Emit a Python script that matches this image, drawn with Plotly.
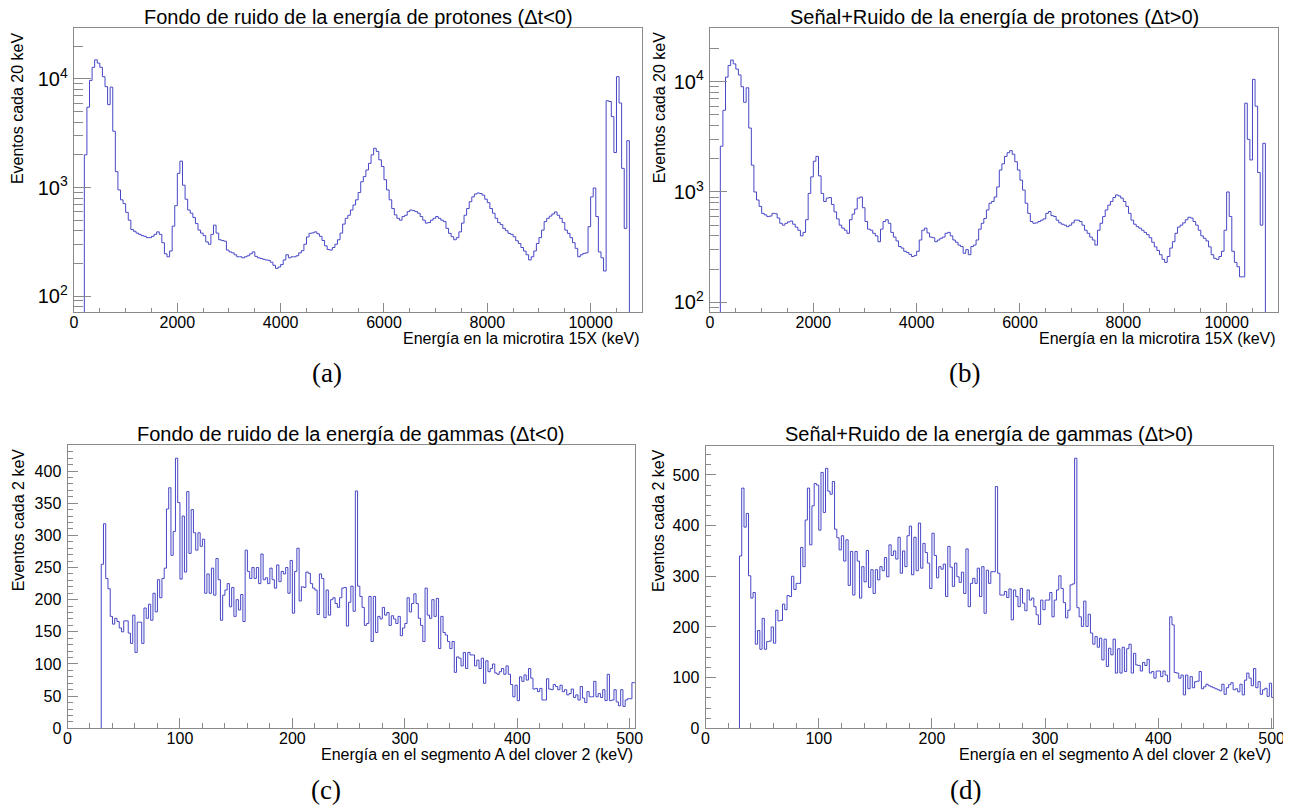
import numpy as np
import plotly.graph_objects as go

# ---------------- data ----------------
# Proton energy spectra, sampled every 50 keV starting at 200 keV (counts per 20 keV)
proton_start_keV = 200
proton_step_keV = 50
proton_bg = [
    2000, 5500, 9700, 12800, 15000, 14000, 12800, 10500, 8500, 5800, 8400, 3300, 1400, 950, 770, 710,
    590, 500, 410, 395, 380, 370, 360, 355, 345, 345, 355, 370, 390, 370, 310, 245, 230, 260, 440, 680,
    1350, 1750, 1050, 780, 620, 580, 530, 465, 405, 380, 360, 315, 300, 370, 450, 380, 330, 325, 320, 265,
    255, 250, 240, 230, 230, 225, 230, 235, 245, 255, 232, 225, 222, 218, 215, 213, 205, 192, 180, 185,
    195, 215, 240, 225, 230, 230, 235, 250, 262, 300, 350, 378, 382, 390, 375, 355, 325, 290, 268, 265,
    280, 300, 330, 380, 460, 520, 555, 620, 690, 770, 900, 1130, 1260, 1450, 1670, 2000, 2300, 2150, 1800, 1560,
    1180, 950, 770, 640, 560, 520, 500, 540, 555, 600, 620, 612, 600, 580, 540, 500, 470, 475, 500, 520,
    540, 520, 500, 485, 420, 378, 352, 330, 345, 390, 470, 555, 640, 740, 820, 870, 890, 880, 850, 780,
    725, 640, 580, 520, 475, 455, 420, 400, 378, 370, 352, 323, 305, 280, 260, 240, 215, 230, 260, 305,
    345, 405, 485, 520, 545, 570, 595, 555, 520, 475, 405, 378, 345, 310, 275, 230, 240, 247, 250, 435,
    820, 990, 540, 255, 225, 170, 6300, 6200, 4500, 2100, 10500, 6000, 1500, 420, 2700,
]
proton_sig = [
    2600, 5500, 11000, 14000, 15700, 14500, 13000, 11500, 9000, 6500, 8800, 3800, 1750, 1000, 846, 740,
    640, 620, 598, 605, 640, 635, 580, 520, 500, 520, 535, 545, 510, 480, 450, 400, 430, 560, 970, 1370,
    1900, 2100, 1400, 970, 820, 880, 890, 770, 660, 570, 500, 470, 450, 422, 560, 630, 700, 880, 900, 720,
    540, 460, 450, 422, 400, 354, 460, 540, 560, 520, 430, 390, 360, 320, 310, 290, 283, 272, 260, 265,
    290, 367, 450, 470, 425, 390, 385, 354, 367, 380, 390, 422, 430, 400, 367, 350, 330, 320, 278, 300,
    270, 320, 330, 367, 460, 520, 575, 687, 790, 820, 900, 1110, 1580, 1800, 2100, 2270, 2370, 2200, 1880, 1580,
    1280, 1040, 790, 640, 540, 520, 525, 540, 555, 570, 640, 665, 610, 600, 555, 525, 510, 500, 485, 500,
    525, 555, 555, 540, 500, 450, 422, 390, 367, 330, 450, 520, 598, 687, 760, 820, 890, 940, 920, 880,
    820, 740, 640, 555, 510, 485, 470, 450, 430, 410, 385, 350, 318, 295, 270, 245, 230, 260, 310, 354,
    422, 480, 500, 525, 560, 590, 580, 540, 500, 450, 400, 380, 360, 318, 270, 250, 245, 260, 290, 450,
    1000, 600, 290, 230, 210, 170, 170, 6380, 3000, 1950, 10500, 6000, 1500, 500, 2760,
]

# Gamma energy spectra, 2 keV bins starting at 30 keV
gamma_start_keV = 30
gamma_step_keV = 2
gamma_bg = [
    255, 318, 233, 217, 174, 162, 171, 166, 156, 150,
    167, 167, 148, 132, 176, 118, 165, 165, 132, 187,
    171, 193, 168, 210, 181, 231, 203, 233, 249, 341,
    374, 269, 306, 420, 351, 232, 330, 243, 368, 272,
    340, 304, 277, 304, 283, 294, 210, 240, 210, 249,
    207, 264, 231, 168, 207, 215, 225, 189, 219, 174,
    200, 184, 208, 166, 277, 244, 233, 250, 233, 250,
    225, 271, 231, 234, 225, 249, 231, 218, 254, 228,
    244, 240, 250, 210, 261, 179, 244, 280, 198, 220,
    219, 243, 241, 225, 218, 215, 177, 240, 233, 172,
    215, 176, 200, 203, 194, 188, 203, 218, 219, 159,
    196, 221, 182, 369, 221, 205, 188, 160, 163, 205,
    135, 205, 149, 174, 170, 188, 176, 180, 160, 175,
    170, 163, 174, 144, 156, 163, 203, 181, 194, 209,
    194, 171, 160, 135, 218, 176, 171, 200, 174, 202,
    124, 174, 149, 145, 135, 124, 135, 87, 111, 109,
    97, 118, 93, 118, 114, 114, 97, 106, 93, 109,
    70, 105, 88, 93, 100, 86, 84, 88, 93, 84,
    97, 84, 68, 49, 67, 43, 80, 73, 83, 75,
    93, 78, 61, 62, 57, 62, 44, 44, 77, 61,
    60, 68, 65, 60, 67, 57, 60, 52, 54, 61,
    48, 52, 44, 65, 47, 40, 57, 49, 49, 73,
    49, 54, 48, 60, 43, 84, 43, 44, 60, 41,
    35, 60, 34, 44, 46, 46, 71, 71,
]
gamma_sig = [
    340, 474, 397, 424, 301, 257, 268, 166, 193, 156,
    217, 156, 171, 172, 200, 168, 233, 212, 213, 245,
    234, 262, 260, 300, 274, 286, 286, 357, 319, 411,
    474, 362, 439, 483, 480, 391, 505, 426, 513, 468,
    462, 487, 393, 376, 352, 380, 330, 372, 282, 349,
    263, 349, 330, 257, 319, 289, 351, 278, 313, 266,
    313, 293, 319, 311, 337, 299, 362, 341, 350, 334,
    377, 306, 350, 319, 380, 399, 303, 377, 311, 405,
    316, 365, 347, 326, 276, 385, 341, 297, 319, 314,
    324, 260, 359, 318, 280, 326, 299, 288, 308, 266,
    354, 240, 286, 296, 286, 316, 260, 319, 227, 312,
    286, 309, 309, 477, 306, 263, 263, 270, 258, 275,
    214, 273, 260, 240, 276, 247, 232, 273, 253, 257,
    240, 224, 205, 253, 234, 253, 253, 268, 220, 253,
    273, 301, 276, 248, 218, 233, 283, 285, 533, 238,
    220, 201, 251, 201, 225, 188, 166, 181, 160, 178,
    135, 176, 122, 158, 145, 176, 109, 157, 109, 160,
    112, 157, 166, 109, 148, 125, 124, 113, 130, 124,
    136, 109, 112, 99, 113, 113, 102, 113, 105, 92,
    220, 204, 110, 109, 99, 105, 66, 105, 78, 102,
    80, 92, 93, 112, 78, 82, 87, 84, 82, 80,
    78, 76, 74, 87, 67, 80, 86, 90, 76, 78,
    72, 87, 66, 95, 109, 99, 84, 118, 80, 92,
    67, 76, 79, 63, 89, 61,
]

titles = [
    "Fondo de ruido de la energía de protones (Δt<0)",
    "Señal+Ruido de la energía de protones (Δt>0)",
    "Fondo de ruido de la energía de gammas (Δt<0)",
    "Señal+Ruido de la energía de gammas (Δt>0)",
]
x_titles = [
    "Energía en la microtira 15X (keV)",
    "Energía en la microtira 15X (keV)",
    "Energía en el segmento A del clover 2 (keV)",
    "Energía en el segmento A del clover 2 (keV)",
]
y_titles = ["Eventos cada 20 keV", "Eventos cada 20 keV", "Eventos cada 2 keV", "Eventos cada 2 keV"]
captions = ["(a)", "(b)", "(c)", "(d)"]

# ---------------- layout helpers ----------------
VIEW_W, VIEW_H = 1291, 807
OX, OY = 8, 8                      # default page (body) margin of the html page
W, H = VIEW_W - OX, VIEW_H - OY    # figure size so that it fills the window
LINE = "#4747c6"
FRAME = "#8a8a8a"
SANS = "Liberation Sans, Arial, sans-serif"
SERIF = "Liberation Serif, Times New Roman, serif"


def fx(px):
    return (px - OX) / W


def fy(py):
    return 1 - (py - OY) / H


def step_xy(start, step, counts, floor):
    counts = np.asarray(counts, dtype=float)
    edges = start + step * np.arange(len(counts) + 1)
    xs = np.concatenate([[edges[0]], edges, [edges[-1]]])
    ys = np.concatenate([[floor], counts, [counts[-1]], [floor]])
    return xs, ys


# window-pixel boxes of the four frames: (left, right, top, bottom)
boxes = [
    (74.0, 642.3, 28.3, 312.3),
    (710.0, 1278.3, 28.3, 312.3),
    (67.5, 635.3, 445.0, 728.3),
    (705.5, 1273.3, 445.7, 728.3),
]
series = [
    (proton_start_keV, proton_step_keV, proton_bg, 1.0),
    (proton_start_keV, proton_step_keV, proton_sig, 1.0),
    (gamma_start_keV, gamma_step_keV, gamma_bg, 0.0),
    (gamma_start_keV, gamma_step_keV, gamma_sig, 0.0),
]

fig = go.Figure()
for i, (start, step, counts, floor) in enumerate(series):
    xs, ys = step_xy(start, step, counts, floor)
    sfx = "" if i == 0 else str(i + 1)
    fig.add_trace(go.Scatter(
        x=xs, y=ys, mode="lines", line=dict(color=LINE, width=1, shape="hv"),
        xaxis="x" + sfx, yaxis="y" + sfx, showlegend=False, hoverinfo="skip",
    ))

common = dict(
    showline=True, linecolor=FRAME, linewidth=1, mirror=True,
    ticks="inside", tickcolor=FRAME, tickwidth=1,
    showgrid=False, zeroline=False, automargin=False,
    tickfont=dict(family=SANS, size=16, color="black"),
)

x_ranges = [[0, 11000], [0, 11000], [0, 505], [0, 501.5]]
y_ranges = [[1.85, 4.467], [1.909, 4.484], [0, 440.5], [0, 557.7]]

layout = dict(
    width=W, height=H, autosize=False,
    margin=dict(l=0, r=0, t=0, b=0, pad=0, autoexpand=False),
    paper_bgcolor="white", plot_bgcolor="white",
    showlegend=False,
)

for i in range(4):
    l, r, t, b = boxes[i]
    sfx = "" if i == 0 else str(i + 1)
    xa = dict(common, domain=[fx(l), fx(r)], range=x_ranges[i], anchor="y" + sfx,
              tickformat="d", ticklabelstandoff=-5)
    ya = dict(common, domain=[fy(b), fy(t)], range=y_ranges[i], anchor="x" + sfx,
              ticklabelstandoff=2)
    if i < 2:
        xa.update(tick0=0, dtick=2000, ticklen=9,
                  minor=dict(dtick=500, ticklen=4, ticks="inside", tickcolor=FRAME, showgrid=False))
        ya.update(type="log", dtick=1, exponentformat="power", ticklen=17,
                  minor=dict(dtick="D1", ticklen=9, ticks="inside", tickcolor=FRAME, showgrid=False))
    else:
        xa.update(tick0=0, dtick=100, ticklen=10,
                  minor=dict(dtick=20, ticklen=5, ticks="inside", tickcolor=FRAME, showgrid=False))
        ydt, ymin = (50, 10) if i == 2 else (100, 20)
        ya.update(tick0=0, dtick=ydt, ticklen=10,
                  minor=dict(dtick=ymin, ticklen=5, ticks="inside", tickcolor=FRAME, showgrid=False))
    layout["xaxis" + sfx] = xa
    layout["yaxis" + sfx] = ya

fig.update_layout(**layout)

# text annotations (positions in window pixels)
title_y = [17, 17, 434, 434]
xtitle_y = [338.5, 338.5, 754.5, 754.5]
ytitle_x = [18.3, 659.5, 18.3, 658.3]
caption_pos = [(326.7, 373.5), (964.5, 373.5), (325.5, 789.5), (965.5, 789.5)]

for i in range(4):
    l, r, t, b = boxes[i]
    fig.add_annotation(text=titles[i], xref="paper", yref="paper",
                       x=fx((l + r) / 2), y=fy(title_y[i]), xanchor="center", yanchor="middle",
                       showarrow=False, font=dict(family=SANS, size=20, color="black"))
    fig.add_annotation(text=x_titles[i], xref="paper", yref="paper",
                       x=fx(r), y=fy(xtitle_y[i]), xanchor="right", yanchor="middle",
                       showarrow=False, font=dict(family=SANS, size=16, color="black"))
    fig.add_annotation(text=y_titles[i], xref="paper", yref="paper", textangle=-90,
                       x=fx(ytitle_x[i]), y=fy(t + 1.5), xanchor="center", yanchor="top",
                       showarrow=False, font=dict(family=SANS, size=16, color="black"))
    cx, cy = caption_pos[i]
    fig.add_annotation(text=captions[i], xref="paper", yref="paper",
                       x=fx(cx), y=fy(cy), xanchor="center", yanchor="middle",
                       showarrow=False, font=dict(family=SERIF, size=27, color="black"))

fig.write_html("out.html")
